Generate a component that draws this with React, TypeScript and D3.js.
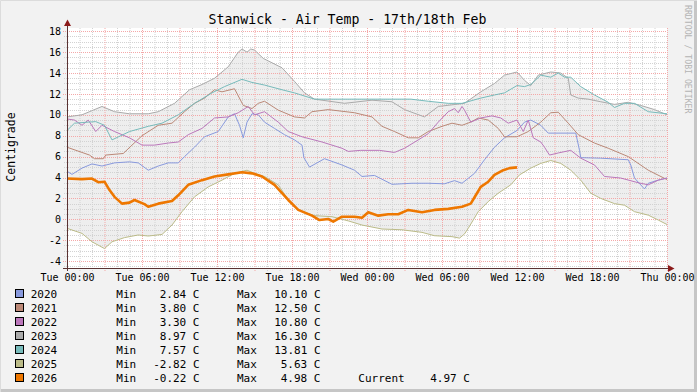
import React from "react";
import * as d3 from "d3";

type Pt = [number, number];

const title = "Stanwick - Air Temp - 17th/18th Feb";
const unitLabel = "Centigrade";
const watermark = "RRDTOOL / TOBI OETIKER";

const xTickLabels = ["Tue 00:00", "Tue 06:00", "Tue 12:00", "Tue 18:00", "Wed 00:00", "Wed 06:00", "Wed 12:00", "Wed 18:00", "Thu 00:00"];
const yTickValues = [-4, -2, 0, 2, 4, 6, 8, 10, 12, 14, 16, 18];

const years = ["2020", "2021", "2022", "2023", "2024", "2025", "2026"];
const colors = ["#8899DD", "#BB8877", "#BB77BB", "#AAAAAA", "#77BBBB", "#BBBB88", "#EE7700"];
const mins = ["2.84", "3.80", "3.30", "8.97", "7.57", "-2.82", "-0.22"];
const maxs = ["10.10", "12.50", "10.80", "16.30", "13.81", "5.63", "4.98"];
const currentValue = "4.97";

// [hour since Tue 00:00, °C]
const s2020: Pt[] = [[0,4.6],[0.4,4.3],[1.2,4.9],[2,5.3],[2.8,5.1],[3.8,5.4],[5,5.5],[5.7,5.4],[6.5,4.7],[7.3,5.1],[8.1,5.4],[8.9,5.4],[9.4,6.0],[10.2,6.9],[11,7.9],[12.1,8.4],[12.9,9.8],[13.4,10.1],[13.8,9.0],[14.1,7.8],[14.4,9.3],[14.8,10.1],[15.3,10.0],[15.8,9.3],[16.6,8.7],[17.4,8.1],[18.2,7.6],[18.8,7.1],[18.95,5.9],[19.4,5.0],[20.6,5.8],[22,5.2],[23,4.7],[23.6,4.1],[24.6,4.2],[26,3.35],[27.6,3.45],[28.9,3.45],[30.2,3.4],[31,3.7],[31.6,3.45],[32.6,4.4],[33.4,5.7],[34.2,6.9],[35,7.8],[36,8.5],[36.6,9.3],[37.1,9.5],[37.9,9.0],[38.5,8.25],[40.7,8.25],[41,6.6],[41.1,5.9],[42.7,5.85],[44.9,5.7],[45.1,5.2],[45.4,3.95],[46.2,2.9],[46.5,3.45],[47.3,3.75],[48,3.95]];
const s2021: Pt[] = [[0,6.9],[1.8,6.15],[2.2,5.8],[2.9,5.8],[3.1,6.15],[4.5,6.3],[5.2,7.1],[6,8.0],[7.3,9.0],[8.4,9.2],[9.4,10.3],[10.2,11.1],[11,11.6],[11.8,12.4],[12.4,12.2],[13.4,12.5],[14.1,10.9],[14.8,10.6],[15.3,11.1],[15.8,11.3],[16.9,10.45],[18.2,9.8],[19,9.7],[19.6,10.3],[20.9,10.5],[23,10.2],[24.4,9.8],[25.2,8.9],[26.2,8.4],[27.3,7.8],[28.1,7.8],[28.9,8.4],[30,8.9],[30.8,9.2],[31.6,9.0],[32.3,9.3],[32.9,9.7],[33.7,9.5],[34.5,8.7],[35,7.9],[36,7.9],[36.9,8.4],[37.9,9.3],[38.7,10.2],[39.3,10.25],[40.1,9.2],[40.9,8.1],[42.2,7.3],[43.3,6.8],[44.9,6.0],[46.5,4.7],[48,3.8]];
const s2022: Pt[] = [[0,9.6],[0.6,9.5],[1.2,9.0],[1.7,9.5],[2.3,8.4],[2.8,9.0],[3.8,8.4],[5,7.8],[6,7.1],[7,7.1],[8.1,7.3],[8.9,7.4],[9.7,8.1],[10.8,8.7],[11.8,9.7],[12.9,9.8],[13.7,10.2],[14.5,10.8],[15,10.0],[15.8,10.3],[16.9,9.3],[17.7,8.4],[18.8,7.9],[20.4,7.4],[22,6.8],[22.5,6.5],[23.5,6.6],[25,6.6],[26.2,6.4],[27,6.8],[28.1,7.6],[28.9,8.2],[29.7,9.3],[30.5,10.3],[31,10.6],[31.3,10.2],[31.6,10.8],[31.8,10.45],[32.3,9.3],[33.1,9.7],[34,9.9],[34.7,9.7],[35.3,9.2],[36,9.5],[36.5,8.4],[36.9,9.5],[37.3,7.8],[37.9,7.4],[38.2,6.9],[38.6,6.15],[39.3,6.35],[40.3,6.6],[41.1,5.85],[42.2,5.2],[43,4.1],[44.3,3.95],[45.7,3.5],[46.5,3.3],[47.3,3.75],[48,3.95]];
const s2023: Pt[] = [[0,9.8],[1.2,10.0],[2.8,10.8],[3.8,10.3],[5,10.1],[6.5,10.1],[7.3,10.3],[8.6,11.1],[9.8,12.4],[10.8,12.9],[11.8,13.5],[12.9,14.6],[13.7,16.0],[14.0,16.3],[14.4,16.0],[14.7,16.3],[15,16.2],[15.7,15.4],[17.2,14.5],[18.2,13.2],[19,12.1],[19.8,11.5],[22.2,11.1],[24.4,11.4],[26,11.25],[27,10.5],[28.6,9.8],[29.7,10.8],[31.8,11.1],[33.1,12.2],[34.2,13.0],[35,13.8],[36,14.1],[36.6,13.3],[37.1,12.8],[37.7,13.8],[38.7,14.1],[39.5,14.0],[40.1,13.5],[40.3,11.9],[40.9,11.6],[41.7,11.5],[42.7,11.25],[43.8,11.0],[44.9,11.2],[45.9,10.9],[47,10.5],[48,10.0]];
const s2024: Pt[] = [[0,8.5],[0.6,9.2],[1.7,9.3],[2.3,9.35],[3,9.0],[3.6,7.6],[5,8.4],[6.5,8.9],[7.6,9.2],[8.9,10.0],[10.2,11.1],[11.6,12.1],[12.6,12.7],[14,13.4],[14.8,13.1],[15.8,12.85],[17.2,12.4],[18.2,12.1],[19.8,11.5],[21.7,11.5],[27.5,11.5],[28.9,11.3],[30.5,11.1],[31.6,11.1],[33.1,11.6],[34.2,11.9],[35,12.1],[36,12.8],[36.6,12.7],[37.1,12.9],[37.9,13.8],[38.7,13.6],[39.3,14.0],[39.8,13.6],[40.3,13.6],[41.1,12.7],[42.2,11.9],[43.3,11.2],[43.8,10.7],[44.6,11.1],[45.4,11.1],[46.5,10.3],[48,10.1]];
const s2025: Pt[] = [[0,-0.86],[1.2,-1.35],[2,-2.15],[3,-2.8],[3.6,-2.15],[4.6,-1.75],[5.7,-1.5],[6.5,-1.6],[7.6,-1.45],[8.4,-0.55],[9.2,0.73],[10.2,2.15],[11.3,3.1],[12.4,3.75],[13.4,4.4],[14.4,4.7],[15,4.4],[15.8,4.1],[16.9,3.3],[17.7,1.85],[18.5,0.9],[19.8,0.35],[21.2,0.25],[22.5,-0.15],[23.6,-0.55],[25.2,-0.93],[26.8,-1.0],[28.4,-1.25],[29.4,-1.57],[30.8,-1.66],[31.4,-1.8],[31.8,-1.4],[32.1,-0.86],[32.9,0.73],[33.7,1.7],[34.5,2.5],[35.5,3.3],[36.2,4.25],[37.1,4.9],[37.9,5.35],[38.7,5.63],[39.5,5.35],[40.3,4.7],[41.1,3.75],[41.9,2.5],[42.7,2.0],[43.8,1.5],[44.6,1.35],[45.4,0.73],[46.5,0.4],[47.3,-0.07],[48,-0.5]];
const s2026: Pt[] = [[0,3.9],[1.2,3.85],[2,3.9],[2.5,3.55],[3,3.6],[3.4,2.8],[3.8,2.15],[4.4,1.5],[5,1.6],[5.4,1.85],[6.2,1.45],[6.5,1.2],[7.3,1.5],[8.4,1.75],[8.9,2.3],[9.7,3.3],[10.8,3.75],[11.8,4.1],[12.9,4.3],[14,4.5],[14.8,4.4],[15.6,4.1],[16.6,3.3],[17.7,1.85],[18.5,0.9],[19.6,0.35],[20.2,-0.07],[20.9,0.03],[21.3,-0.22],[22,0.25],[23,0.25],[23.6,0.15],[24.1,0.67],[24.9,0.35],[25.7,0.48],[26.5,0.48],[27.3,0.9],[28.4,0.67],[29.4,0.9],[30.5,1.0],[31.6,1.2],[32.3,1.5],[32.7,2.3],[33.1,3.1],[33.7,3.6],[34.2,4.25],[34.9,4.7],[35.4,4.9],[36,4.97]];

const seriesData: Pt[][] = [s2020, s2021, s2022, s2023, s2024, s2025, s2026];

const W = 697, H = 392;
const FONT = "'DejaVu Sans Mono', monospace";

function valueAt(data: Pt[], h: number): number | null {
  if (h < data[0][0] - 1e-9 || h > data[data.length - 1][0] + 1e-9) return null;
  const i = d3.bisector((d: Pt) => d[0]).left(data, h);
  if (i <= 0) return data[0][1];
  if (i >= data.length) return data[data.length - 1][1];
  const a = data[i - 1], b = data[i];
  const t = (h - a[0]) / (b[0] - a[0] || 1);
  return a[1] + (b[1] - a[1]) * t;
}

export default function App() {
  const x = d3.scaleLinear().domain([0, 48]).range([67, 667]);
  const y = d3.scaleLinear().domain([-4.66, 18.31]).range([268, 28]);

  const hours = d3.range(0, 48.0001, 0.05);
  const env = hours.map((h) => {
    const vals = seriesData.map((s) => valueAt(s, h)).filter((v): v is number => v !== null);
    return { h, lo: d3.min(vals) as number, hi: d3.max(vals) as number };
  });
  const area = d3.area<{ h: number; lo: number; hi: number }>()
    .x((d) => x(d.h)).y0((d) => y(d.lo)).y1((d) => y(d.hi));
  const line = d3.line<Pt>().x((d) => x(d[0])).y((d) => y(d[1]));

  const minorX = d3.range(0, 49, 1).filter((h) => h % 3 !== 0);
  const majorX = d3.range(3, 49, 3);
  const minorY = d3.range(-4.5, 18.01, 0.5).filter((v) => Math.abs(v % 2) > 0.01);
  const majorY = yTickValues;

  return (
    <svg width={W} height={H} style={{ position: "absolute", left: 0, top: 0, display: "block" }}
      xmlns="http://www.w3.org/2000/svg">
      <rect x={0} y={0} width={W} height={H} fill="#f2f2f2" />
      <path d={`M0.5,${H} V0.5 H${W}`} fill="none" stroke="#dcdcdc" strokeWidth={1} />
      <path d={`M1,${H - 1.5} H${W - 1.5} V1`} fill="none" stroke="#c6c6c6" strokeWidth={3} />

      <text x={208.5} y={24} fontFamily={FONT} fontSize={13.2} fill="#000">{title}</text>

      <rect x={67} y={28} width={600} height={240} fill="#ffffff" />
      <path d={area(env) || ""} fill="#eeeeee" stroke="none" />

      {minorX.map((h) => (
        <line key={"mx" + h} x1={x(h) + 0.5} x2={x(h) + 0.5} y1={28} y2={271} stroke="#d2d2d2" strokeDasharray="1,1" />
      ))}
      {minorY.map((v) => (
        <line key={"my" + v} x1={64} x2={667} y1={Math.round(y(v)) + 0.5} y2={Math.round(y(v)) + 0.5} stroke="#d2d2d2" strokeDasharray="1,1" />
      ))}
      {majorX.map((h) => (
        <line key={"Mx" + h} x1={x(h) + 0.5} x2={x(h) + 0.5} y1={28} y2={271} stroke="#f4a8a8" strokeDasharray="1,1" />
      ))}
      {majorY.map((v) => (
        <line key={"My" + v} x1={63} x2={667} y1={Math.round(y(v)) + 0.5} y2={Math.round(y(v)) + 0.5} stroke="#f4a8a8" strokeDasharray="1,1" />
      ))}

      {seriesData.map((s, i) => (
        <path key={years[i]} d={line(s) || ""} fill="none" stroke={colors[i]}
          strokeWidth={i === 6 ? 2.6 : 1} strokeLinejoin="round" />
      ))}

      <line x1={67.5} x2={67.5} y1={271} y2={24} stroke="#5a3232" strokeWidth={1} />
      <polygon points="64,26 71,26 67.5,19.5" fill="#8b1a1a" />
      <line x1={63} x2={669} y1={268.5} y2={268.5} stroke="#5a3232" strokeWidth={1} />
      <polygon points="668,265 668,272 674.5,268.5" fill="#8b1a1a" />

      {majorY.map((v) => (
        <text key={"yl" + v} x={61} y={y(v) + 3.6} textAnchor="end" fontFamily={FONT} fontSize={10} fill="#000">{v}</text>
      ))}
      {xTickLabels.map((t, i) => (
        <text key={"xl" + i} x={x(i * 6) + 0.5} y={281} textAnchor="middle" fontFamily={FONT} fontSize={10} fill="#000">{t}</text>
      ))}

      <text transform="translate(15,147) rotate(-90)" textAnchor="middle" fontFamily={FONT} fontSize={11.5} fill="#000">{unitLabel}</text>
      <text transform="translate(685,5) rotate(90)" textAnchor="start" fontFamily={FONT} fontSize={8.2} fill="#b4b4b4">{watermark}</text>

      {years.map((yr, i) => {
        const by = 298.3 + i * 14;
        return (
          <g key={"lg" + yr}>
            <rect x={15.5} y={by - 8.8} width={8} height={8} fill={colors[i]} stroke="#000" strokeWidth={1} />
            <text x={30.7} y={by} fontFamily={FONT} fontSize={11} fill="#000">{yr}</text>
            <text x={116.3} y={by} fontFamily={FONT} fontSize={11} fill="#000">Min</text>
            <text x={199.5} y={by} textAnchor="end" fontFamily={FONT} fontSize={11} fill="#000">{mins[i] + " C"}</text>
            <text x={237} y={by} fontFamily={FONT} fontSize={11} fill="#000">Max</text>
            <text x={320.5} y={by} textAnchor="end" fontFamily={FONT} fontSize={11} fill="#000">{maxs[i] + " C"}</text>
            {i === 6 && (
              <>
                <text x={358.3} y={by} fontFamily={FONT} fontSize={11} fill="#000">Current</text>
                <text x={470} y={by} textAnchor="end" fontFamily={FONT} fontSize={11} fill="#000">{currentValue + " C"}</text>
              </>
            )}
          </g>
        );
      })}
    </svg>
  );
}
